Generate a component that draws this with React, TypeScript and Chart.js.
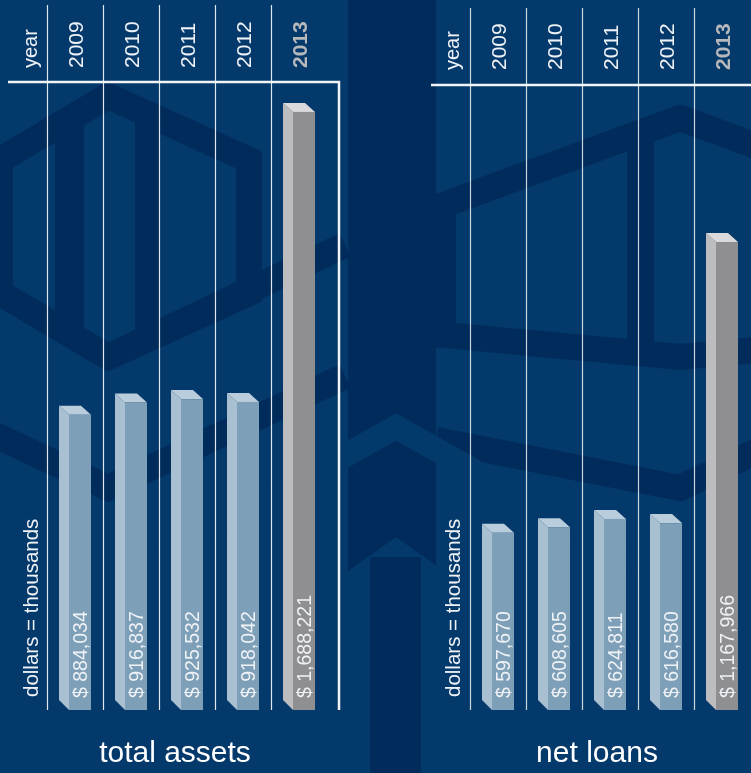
import React, { useEffect, useRef } from 'react';
import { Chart, registerables } from 'chart.js';

Chart.register(...registerables);

// ---------- data ----------
const years = ['2009', '2010', '2011', '2012', '2013'];
const totalAssets = [884034, 916837, 925532, 918042, 1688221];
const netLoans = [597670, 608605, 624811, 616580, 1167966];
const yearHeader = 'year';
const unitNote = 'dollars = thousands';
const assetsTitle = 'total assets';
const loansTitle = 'net loans';

// ---------- styles ----------
const FONT = '"Liberation Sans", Arial, Helvetica, sans-serif';
const BG_LIGHT = '#04396b';
const BG_DARK = '#002b5b';
const LINE = 'rgba(236,241,246,0.95)';
const TEXT = '#eef2f6';
const HIGHLIGHT_TEXT = '#b7b8bb';
const BLUE = { front: '#7d9fb7', side: '#a9c0d2', top: '#b9cddc' };
const GREY = { front: '#8f8f92', side: '#bdbdc0', top: '#dadadc' };

const SIDE_W = 10;
const FRONT_W = 22;
const DEPTH = 9;

const fmt = (v: number) => '$ ' + v.toLocaleString('en-US');

function poly(ctx: CanvasRenderingContext2D, pts: number[][], close = true) {
  ctx.beginPath();
  pts.forEach((p, i) => (i ? ctx.lineTo(p[0], p[1]) : ctx.moveTo(p[0], p[1])));
  if (close) ctx.closePath();
}

function drawBackground(ctx: CanvasRenderingContext2D, offsetX: number) {
  ctx.save();
  ctx.translate(-offsetX, 0);
  ctx.fillStyle = BG_LIGHT;
  ctx.fillRect(0, 0, 751, 773);
  ctx.fillStyle = BG_DARK;
  ctx.strokeStyle = BG_DARK;
  ctx.lineJoin = 'miter';
  // centre column
  ctx.fillRect(348, 0, 88, 773);
  ctx.lineWidth = 26;
  // left hexagon ring
  poly(ctx, [[108, 96], [249, 160], [249, 293], [108, 357], [0, 293], [0, 160]]);
  ctx.stroke();
  ctx.fillRect(55, 112, 29, 225);
  ctx.fillRect(135, 112, 25, 225);
  // diagonal from left hexagon
  poly(ctx, [[108, 357], [345, 245]], false);
  ctx.stroke();
  // lower-left V band
  poly(ctx, [[-20, 428], [108, 488], [345, 376]], false);
  ctx.stroke();
  // right hexagon ring
  poly(ctx, [[680, 118], [917, 205], [917, 335], [680, 357], [443, 335], [443, 205]]);
  ctx.stroke();
  ctx.fillRect(627, 130, 27, 215);
  // lower right V band
  poly(ctx, [[436, 440], [680, 488], [780, 440]], false);
  ctx.stroke();
  // light chevrons in the centre
  ctx.strokeStyle = BG_LIGHT;
  ctx.fillStyle = BG_LIGHT;
  ctx.lineWidth = 24;
  poly(ctx, [[150, 565], [396, 427], [642, 565]], false);
  ctx.stroke();
  poly(ctx, [[300, 605], [396, 537], [492, 605], [492, 773], [300, 773]]);
  ctx.fill();
  ctx.fillStyle = BG_DARK;
  ctx.fillRect(370, 557, 51, 216);
  ctx.restore();
}

function vText(ctx: CanvasRenderingContext2D, text: string, baseX: number, startY: number, font: string, color: string) {
  ctx.save();
  ctx.translate(baseX, startY);
  ctx.rotate(-Math.PI / 2);
  ctx.font = font;
  ctx.fillStyle = color;
  ctx.textAlign = 'left';
  ctx.textBaseline = 'alphabetic';
  ctx.fillText(text, 0, 0);
  ctx.restore();
}

interface PanelSpec {
  values: number[];
  yMin: number;
  yMax: number;
  title: string;
  offsetX: number;
  padding: { left: number; right: number; top: number; bottom: number };
  headerY: number;
  headerX0: number;
  headerX1: number;
  frameRightX: number | null;
  gridTop: number;
  yearStartY: number;
  sideBaseX: number;
  unitBaseX: number;
  titleX: number;
  lineColor: string;
}

function makePlugin(spec: PanelSpec) {
  return {
    id: 'panelDeco',
    beforeDraw(chart: any) {
      drawBackground(chart.ctx, spec.offsetX);
    },
    beforeDatasetsDraw(chart: any) {
      const ctx: CanvasRenderingContext2D = chart.ctx;
      const xs = chart.scales.x;
      const area = chart.chartArea;
      const n = years.length;
      const step = n > 1 ? xs.getPixelForValue(1) - xs.getPixelForValue(0) : area.right - area.left;
      ctx.save();
      // vertical column lines
      ctx.strokeStyle = spec.lineColor;
      ctx.lineWidth = 1.2;
      for (let i = 0; i < n; i++) {
        const x = Math.round(xs.getPixelForValue(i) - step / 2) + 0.5;
        ctx.beginPath();
        ctx.moveTo(x, spec.gridTop);
        ctx.lineTo(x, area.bottom);
        ctx.stroke();
      }
      // header rule & frame
      ctx.strokeStyle = '#f2f5f8';
      ctx.lineWidth = 2.5;
      ctx.beginPath();
      ctx.moveTo(spec.headerX0, spec.headerY);
      if (spec.frameRightX !== null) {
        ctx.lineTo(spec.frameRightX, spec.headerY);
        ctx.lineTo(spec.frameRightX, area.bottom);
      } else {
        ctx.lineTo(spec.headerX1, spec.headerY);
      }
      ctx.stroke();
      // header labels
      const yf = '21px ' + FONT;
      vText(ctx, yearHeader, spec.sideBaseX, spec.yearStartY, '20px ' + FONT, TEXT);
      years.forEach((yr, i) => {
        const cx = xs.getPixelForValue(i);
        const hi = i === n - 1;
        vText(ctx, yr, cx + 7.5, spec.yearStartY, hi ? 'bold ' + yf : yf, hi ? HIGHLIGHT_TEXT : TEXT);
      });
      vText(ctx, unitNote, spec.unitBaseX, 697, '20.5px ' + FONT, TEXT);
      // title
      ctx.font = '30px ' + FONT;
      ctx.fillStyle = '#ffffff';
      ctx.textAlign = 'center';
      ctx.textBaseline = 'alphabetic';
      ctx.fillText(spec.title, spec.titleX, 762);
      ctx.restore();
    },
    afterDatasetsDraw(chart: any) {
      const ctx: CanvasRenderingContext2D = chart.ctx;
      const meta = chart.getDatasetMeta(0);
      const n = meta.data.length;
      const bottom = chart.chartArea.bottom;
      ctx.save();
      meta.data.forEach((el: any, i: number) => {
        const p = el.getProps(['x', 'y', 'base'], true);
        const x = p.x;
        const y = p.y;
        const base = Math.min(p.base, bottom);
        const pal = i === n - 1 ? GREY : BLUE;
        const l = x - (SIDE_W + FRONT_W) / 2;
        const fx = l + SIDE_W;
        const r = fx + FRONT_W;
        // side face
        ctx.fillStyle = pal.side;
        poly(ctx, [[l, y - DEPTH], [fx, y], [fx, base], [l, base - SIDE_W]]);
        ctx.fill();
        // top face
        ctx.fillStyle = pal.top;
        poly(ctx, [[l, y - DEPTH], [r - SIDE_W, y - DEPTH], [r, y], [fx, y]]);
        ctx.fill();
        // front face
        ctx.fillStyle = pal.front;
        ctx.fillRect(fx, y, FRONT_W, base - y);
        // value label
        vText(ctx, fmt(spec.values[i]), fx + FRONT_W / 2 + 7.3, 698, '19.5px ' + FONT, TEXT);
      });
      ctx.restore();
    },
  };
}

function makeConfig(spec: PanelSpec): any {
  return {
    type: 'bar',
    data: {
      labels: years,
      datasets: [
        {
          data: spec.values,
          backgroundColor: 'rgba(0,0,0,0)',
          borderWidth: 0,
          barThickness: SIDE_W + FRONT_W,
        },
      ],
    },
    options: {
      animation: false,
      responsive: false,
      maintainAspectRatio: false,
      layout: { padding: spec.padding },
      scales: {
        x: { display: false, offset: true },
        y: { display: false, min: spec.yMin, max: spec.yMax },
      },
      plugins: { legend: { display: false }, tooltip: { enabled: false }, title: { display: false } },
    },
    plugins: [makePlugin(spec)],
  };
}

const leftSpec: PanelSpec = {
  values: totalAssets,
  yMin: 100000,
  yMax: 1765000,
  title: assetsTitle,
  offsetX: 0,
  padding: { left: 47, right: 49, top: 83, bottom: 63 },
  headerY: 82,
  headerX0: 8,
  headerX1: 339,
  frameRightX: 339,
  gridTop: 5,
  yearStartY: 68,
  sideBaseX: 37,
  unitBaseX: 37.5,
  titleX: 175,
  lineColor: LINE,
};

const rightSpec: PanelSpec = {
  values: netLoans,
  yMin: 250000,
  yMax: 1476000,
  title: loansTitle,
  offsetX: 376,
  padding: { left: 94, right: 1, top: 85, bottom: 63 },
  headerY: 85,
  headerX0: 55,
  headerX1: 375,
  frameRightX: null,
  gridTop: 8,
  yearStartY: 70,
  sideBaseX: 83,
  unitBaseX: 84,
  titleX: 221,
  lineColor: 'rgba(215,222,230,0.95)',
};

export default function App() {
  const leftRef = useRef<HTMLCanvasElement>(null);
  const rightRef = useRef<HTMLCanvasElement>(null);

  useEffect(() => {
    const c1 = new Chart(leftRef.current as HTMLCanvasElement, makeConfig(leftSpec));
    const c2 = new Chart(rightRef.current as HTMLCanvasElement, makeConfig(rightSpec));
    return () => {
      c1.destroy();
      c2.destroy();
    };
  }, []);

  return (
    <div style={{ position: 'fixed', left: 0, top: 0, width: 751, height: 773, overflow: 'hidden', background: BG_LIGHT }}>
      <canvas ref={leftRef} width={376} height={773} style={{ position: 'absolute', left: 0, top: 0, width: 376, height: 773 }} />
      <canvas ref={rightRef} width={375} height={773} style={{ position: 'absolute', left: 376, top: 0, width: 375, height: 773 }} />
    </div>
  );
}
